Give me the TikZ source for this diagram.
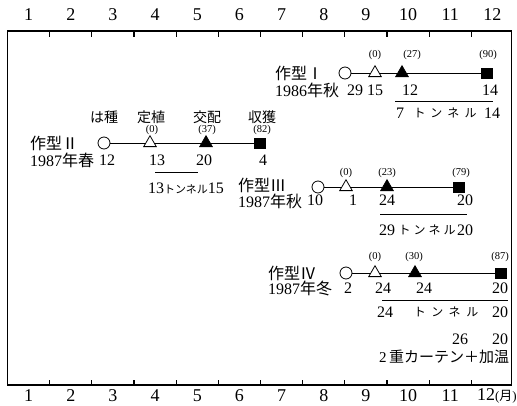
\documentclass[tikz,border=0pt]{standalone}
\usepackage{fontspec}
\setmainfont{Liberation Serif}
\newfontfamily\jp{Noto Sans CJK JP}
\usetikzlibrary{shapes.geometric}
\tikzstyle{seed}=[draw, circle, line width=0.8pt, minimum size=12pt, inner sep=0pt]
\tikzstyle{plant}=[draw, regular polygon, regular polygon sides=3,
  line width=0.8pt, minimum size=14.5pt, inner sep=0pt]
\tikzstyle{pollen}=[plant, fill=black]
\tikzstyle{crop}=[draw, fill=black, minimum width=11pt, minimum height=10pt,
  inner sep=0pt]
\tikzstyle{day}=[inner sep=0pt, font=\fontsize{16}{16}\selectfont]
\tikzstyle{ratio}=[inner sep=0pt, font=\fontsize{10.5}{10.5}\selectfont]
\tikzstyle{work}=[inner sep=0pt, font=\jp\fontsize{14}{14}\selectfont]
\tikzstyle{cropname}=[inner sep=0pt, anchor=west, font=\fontsize{16}{16}\selectfont]
\tikzstyle{kana}=[inner sep=0pt, font=\jp\fontsize{12}{12}\selectfont]
\tikzstyle{month}=[inner sep=0pt, font=\fontsize{18}{18}\selectfont]
\tikzstyle{line}=[draw, line width=0.7pt]
\tikzstyle{tunnel}=[draw, line width=0.9pt]
\tikzstyle{curtain}=[draw, double, line width=0.6pt, double distance=1.5pt]
\tikzstyle{chart}=[draw, line width=1.2pt]
\newcommand{\sowing}[1]{node (c#1) [seed] {}}
\newcommand{\planting}[1]{node (t#1) [plant] {}}
\newcommand{\crossing}[1]{node (f#1) [pollen] {}}
\newcommand{\harvest}[1]{node (s#1) [crop] {}}
\newcommand{\tonneru}[1]{ト\hspace{#1}ン\hspace{#1}ネ\hspace{#1}ル}

\begin{document}
\begin{tikzpicture}[x=1pt, y=-1pt]
\useasboundingbox (0,0) rectangle (517,405);

% Draw the month frame
\path [chart] (7.5,31) rectangle (511.5,385);
\foreach \k in {1,...,11} {
  \path [chart] (7.5+42.17*\k,31) -- +(0,5.5);
  \path [chart] (7.5+42.17*\k,385) -- +(0,-5.5);
}
\foreach \k in {1,...,12}
  \node (mt\k) [month] at (7.5+42.17*\k-21.08,15) {\k};
\foreach \k in {1,...,11}
  \node (mb\k) [month] at (7.5+42.17*\k-21.08,396) {\k};
\node (mb12) [month, anchor=east] at (517,396)
  {12{\fontsize{13}{13}\selectfont({\jp 月})}};

% Cropping type I
\path (345,73)       \sowing{1};
\path (c1)+(30,0)    \planting{1};
\path (c1)+(57,0)    \crossing{1};
\path (c1)+(142,0)   \harvest{1};
\path (c1)+(-70,0)   node (k1) [cropname] {\jp 作型Ⅰ};
\path (c1)+(-70,17)  node (y1) [cropname] {1986{\jp 年秋}};
\path (t1)+(0,-18)   node (r1a) [ratio] {(0)};
\path (f1)+(10,-18)  node (r1b) [ratio] {(27)};
\path (s1)+(1,-18)   node (r1c) [ratio] {(90)};
\path (c1)+(10,17)   node (d1a) [day] {29};
\path (t1)+(0,17)    node (d1b) [day] {15};
\path (f1)+(8,17)    node (d1c) [day] {12};
\path (s1)+(3,17)    node (d1d) [day] {14};

% Cropping type II
\path (104,143)      \sowing{2};
\path (c2)+(46,0)    \planting{2};
\path (c2)+(102,0)   \crossing{2};
\path (c2)+(156,0)   \harvest{2};
\path (c2)+(-74,0)   node (k2) [cropname] {\jp 作型Ⅱ};
\path (c2)+(-74,17)  node (y2) [cropname] {1987{\jp 年春}};
\path (c2)+(0,-26)   node (w2a) [work] {は種};
\path (t2)+(1,-26)   node (w2b) [work] {定植};
\path (f2)+(1,-26)   node (w2c) [work] {交配};
\path (s2)+(2,-26)   node (w2d) [work] {収獲};
\path (t2)+(2,-13)   node (r2a) [ratio] {(0)};
\path (f2)+(1,-13)   node (r2b) [ratio] {(37)};
\path (s2)+(2,-13)   node (r2c) [ratio] {(82)};
\path (c2)+(3,17)    node (d2a) [day] {12};
\path (t2)+(7,17)    node (d2b) [day] {13};
\path (f2)+(-2,17)   node (d2c) [day] {20};
\path (s2)+(3,17)    node (d2d) [day] {4};

% Cropping type III
\path (318,187)      \sowing{3};
\path (c3)+(28,0)    \planting{3};
\path (c3)+(69,0)    \crossing{3};
\path (c3)+(141,0)   \harvest{3};
\path (c3)+(-80,-2)  node (k3) [cropname] {\jp 作型Ⅲ};
\path (c3)+(-80,14)  node (y3) [cropname] {1987{\jp 年秋}};
\path (t3)+(0,-14)   node (r3a) [ratio] {(0)};
\path (f3)+(0,-14)   node (r3b) [ratio] {(23)};
\path (s3)+(2,-14)   node (r3c) [ratio] {(79)};
\path (c3)+(-3,13)   node (d3a) [day] {10};
\path (t3)+(7,13)    node (d3b) [day] {1};
\path (f3)+(0,13)    node (d3c) [day] {24};
\path (s3)+(6,13)    node (d3d) [day] {20};

% Cropping type IV
\path (346,273)      \sowing{4};
\path (c4)+(29,0)    \planting{4};
\path (c4)+(69,0)    \crossing{4};
\path (c4)+(155,0)   \harvest{4};
\path (c4)+(-78,0)   node (k4) [cropname] {\jp 作型Ⅳ};
\path (c4)+(-78,15)  node (y4) [cropname] {1987{\jp 年冬}};
\path (t4)+(0,-16)   node (r4a) [ratio] {(0)};
\path (f4)+(-1,-16)  node (r4b) [ratio] {(30)};
\path (s4)+(-1,-16)  node (r4c) [ratio] {(87)};
\path (c4)+(2,15)    node (d4a) [day] {2};
\path (t4)+(8,15)    node (d4b) [day] {24};
\path (f4)+(9,15)    node (d4c) [day] {24};
\path (s4)+(-1,15)   node (d4d) [day] {20};

% Draw lines between stages
\foreach \i in {1,...,4} {
  \path [line] (c\i) -- (t\i);
  \path [line] (t\i) -- (f\i);
  \path [line] (f\i) -- (s\i);
}

% Tunnel periods
\coordinate (a1) at (395,101);
\coordinate (b1) at (493,101);
\path [tunnel] (a1) -- (b1);
\path (a1)+(5,12)    node (u1a) [day] {7};
\path (a1)+(50,12)   node (u1b) [kana] {\tonneru{5pt}};
\path (b1)+(-1,12)   node (u1c) [day] {14};

\coordinate (a2) at (155,172);
\coordinate (b2) at (198,172);
\path [tunnel] (a2) -- (b2);
\path (a2)+(31,16)   node (u2) [day]
  {13{\jp\fontsize{11}{11}\selectfont トンネル}15};

\coordinate (a3) at (380,214);
\coordinate (b3) at (467,214);
\path [tunnel] (a3) -- (b3);
\path (a3)+(7,16)    node (u3a) [day] {29};
\path (a3)+(47,16)   node (u3b) [kana] {\tonneru{3pt}};
\path (b3)+(-2,16)   node (u3c) [day] {20};

\coordinate (a4) at (382,300);
\coordinate (b4) at (508,300);
\path [tunnel] (a4) -- (b4);
\path (a4)+(3,12)    node (u4a) [day] {24};
\path (a4)+(64,12)   node (u4b) [kana] {\tonneru{5.5pt}};
\path (b4)+(-8,12)   node (u4c) [day] {20};

% Double curtain and heating
\coordinate (a5) at (465,328);
\coordinate (b5) at (508,328);
\path [curtain] (a5) -- (b5);
\path (a5)+(-5,11)   node (v5a) [day] {26};
\path (b5)+(-8,11)   node (v5b) [day] {20};
\path (444,357)      node (v5c) [day, font=\fontsize{15}{15}\selectfont]
  {2\,{\jp 重カーテン＋加温}};
\end{tikzpicture}
\end{document}
